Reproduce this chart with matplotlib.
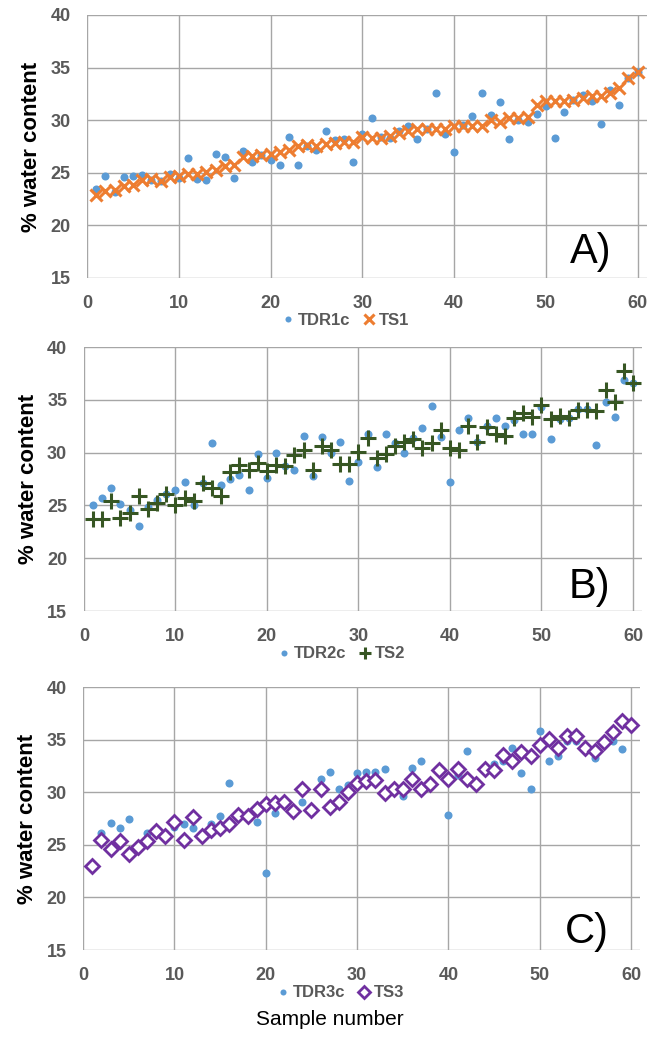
import numpy as np
import matplotlib.pyplot as plt

samples = np.arange(1, 61)

# Panel A
tdr1c = [23.5, 24.7, 23.2, 24.6, 24.7, 24.8, 24.3, 24.2, 24.9, 24.5,
         26.4, 24.4, 24.3, 26.8, 26.5, 24.5, 27.1, 26.0, 26.7, 26.2,
         25.7, 28.4, 25.7, 27.5, 27.2, 29.0, 28.1, 28.2, 26.0, 28.7,
         30.2, 28.4, 28.3, 29.0, 29.4, 28.2, 29.2, 32.6, 28.7, 27.0,
         29.5, 30.4, 32.6, 30.5, 31.7, 28.2, 30.0, 29.8, 30.6, 31.3,
         28.3, 30.8, 31.9, 32.4, 31.8, 29.6, 32.9, 31.4, 34.0, 34.6]
ts1 = [22.9, 23.3, 23.4, 23.7, 23.8, 24.3, 24.4, 24.2, 24.6, 24.7,
       24.9, 24.9, 25.1, 25.3, 25.6, 25.7, 26.5, 26.6, 26.7, 26.8,
       27.0, 27.2, 27.5, 27.6, 27.5, 27.7, 27.8, 27.9, 27.9, 28.4,
       28.3, 28.3, 28.5, 28.8, 29.0, 29.2, 29.2, 29.2, 29.2, 29.4,
       29.4, 29.4, 29.4, 30.0, 29.8, 30.2, 30.2, 30.3, 31.4, 31.8,
       31.8, 31.8, 31.9, 32.1, 32.3, 32.3, 32.6, 33.1, 34.0, 34.6]

# Panel B
tdr2c = [25.0, 25.7, 26.7, 25.1, 24.6, 23.1, 24.9, 25.5, 26.1, 26.5,
         27.2, 25.0, 27.1, 30.9, 26.9, 27.5, 27.9, 26.5, 29.9, 27.6,
         30.0, 28.7, 28.4, 31.6, 27.8, 31.5, 30.0, 31.0, 27.3, 29.1,
         31.8, 28.6, 31.8, 30.9, 30.0, 31.4, 32.3, 34.4, 31.5, 27.2,
         32.1, 33.3, 31.0, 32.5, 33.3, 32.5, 33.1, 31.8, 31.8, 34.3,
         31.3, 33.2, 33.3, 34.1, 34.1, 30.7, 34.8, 33.4, 36.9, 36.6]
ts2 = [23.7, 23.7, 25.4, 23.8, 24.3, 25.9, 24.7, 25.2, 26.1, 25.0,
       25.7, 25.4, 27.1, 26.7, 25.9, 28.2, 28.8, 28.4, 29.0, 28.3,
       28.8, 28.7, 29.8, 30.3, 28.4, 30.6, 30.3, 28.9, 28.9, 30.1,
       31.4, 29.5, 29.9, 30.6, 31.0, 31.3, 30.4, 30.9, 32.1, 30.4,
       30.3, 32.5, 31.0, 32.4, 31.8, 31.6, 33.3, 33.8, 33.4, 34.5,
       33.2, 33.5, 33.3, 34.0, 34.0, 33.9, 35.9, 34.8, 37.7, 36.6]

# Panel C
tdr3c = [23.0, 26.1, 27.1, 26.6, 27.5, 25.0, 26.1, 26.5, 26.1, 26.7,
         27.0, 26.6, 25.9, 27.0, 27.7, 30.9, 27.8, 27.9, 27.2, 22.3,
         28.0, 29.3, 27.9, 29.1, 28.1, 31.3, 31.9, 30.3, 30.7, 31.8,
         31.9, 31.9, 32.2, 30.5, 29.6, 32.3, 33.0, 30.8, 32.1, 27.8,
         31.6, 33.9, 30.9, 32.2, 32.7, 33.0, 34.2, 31.8, 30.3, 35.8,
         33.0, 33.4, 34.9, 34.9, 34.2, 33.3, 34.8, 34.9, 34.1, 36.5]
ts3 = [23.0, 25.5, 24.6, 25.4, 24.1, 24.8, 25.4, 26.3, 25.8, 27.2,
       25.5, 27.6, 25.8, 26.4, 26.6, 27.0, 27.8, 27.7, 28.4, 28.9,
       29.0, 29.1, 28.2, 30.3, 28.3, 30.3, 28.6, 29.1, 30.0, 30.9,
       31.1, 31.2, 29.9, 30.3, 30.3, 31.3, 30.3, 30.8, 32.1, 31.3,
       32.2, 31.3, 30.8, 32.2, 32.1, 33.5, 33.0, 33.8, 33.4, 34.5,
       35.1, 34.2, 35.3, 35.3, 34.2, 33.9, 34.8, 35.7, 36.8, 36.4]

blue = '#5B9BD5'
tick_col = '#595959'
grid_col = '#A6A6A6'
font = ['Liberation Sans', 'DejaVu Sans']
plt.rcParams['font.family'] = font

fig = plt.figure(figsize=(6.6, 10.41), dpi=100)

panels = [
    ([0.132, 0.733, 0.848, 0.2526], tdr1c, ts1, 'TDR1c', 'TS1',
     dict(marker='x', color='#ED7D31', ms=9, mew=2.2), 'A)', (0.90, 0.10)),
    ([0.127, 0.413, 0.846, 0.2536], tdr2c, ts2, 'TDR2c', 'TS2',
     dict(marker='+', color='#375623', ms=11, mew=2.2), 'B)', (0.905, 0.09)),
    ([0.126, 0.0874, 0.844, 0.2526], tdr3c, ts3, 'TDR3c', 'TS3',
     dict(marker='D', color='#7030A0', mfc='white', ms=7.5, mew=2), 'C)', (0.905, 0.07)),
]

for rect, tdr, ts, lab1, lab2, style, letter, lpos in panels:
    ax = fig.add_axes(rect)
    ax.plot(samples, tdr, 'o', color=blue, ms=5.8, mew=0, label=lab1, zorder=3)
    ax.plot(samples, ts, linestyle='none', label=lab2, zorder=4, **style)
    ax.set_xlim(0, 61)
    ax.set_ylim(15, 40)
    ax.set_xticks(range(0, 61, 10))
    ax.set_yticks(range(15, 41, 5))
    ax.grid(True, color=grid_col, lw=1)
    ax.set_axisbelow(True)
    for s in ax.spines.values():
        s.set_visible(False)
    ax.tick_params(length=0, labelsize=13, labelcolor=tick_col, pad=12)
    for t in ax.get_xticklabels() + ax.get_yticklabels():
        t.set_fontweight('bold')
    ax.set_ylabel('% water content', fontsize=16, fontweight='bold', labelpad=6)
    ax.text(lpos[0], lpos[1], letter, transform=ax.transAxes, fontsize=30,
            ha='center', va='center')
    leg = ax.legend(loc='upper center', bbox_to_anchor=(0.46, -0.09), ncol=2,
                    frameon=False, handletextpad=0.1, columnspacing=0.6,
                    handlelength=1.0, markerscale=0.75, borderpad=0.2,
                    prop={'size': 12, 'weight': 'bold'})
    for t in leg.get_texts():
        t.set_color(tick_col)

fig.text(0.5, 0.021, 'Sample number', ha='center', va='center', fontsize=15)

fig.savefig('out.png', dpi=100)
